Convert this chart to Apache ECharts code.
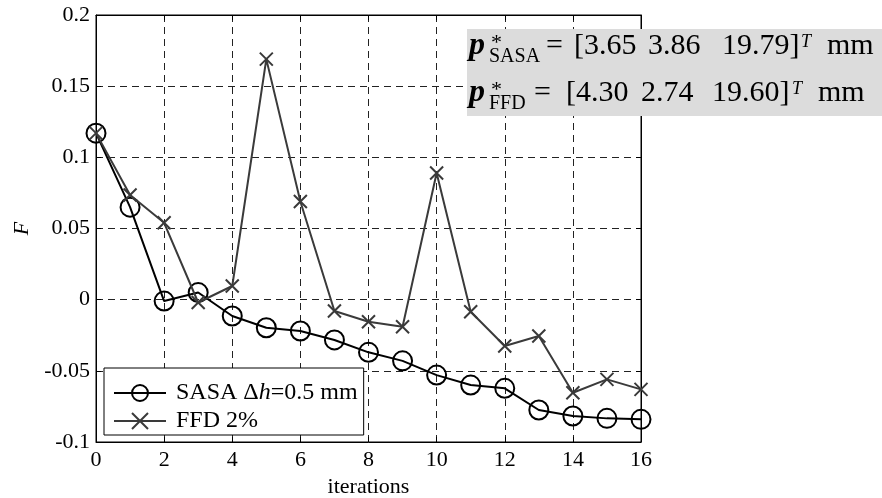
<!DOCTYPE html>
<html>
<head>
<meta charset="utf-8">
<script src="https://cdn.jsdelivr.net/npm/echarts@6/dist/echarts.min.js"></script>
<style>html,body{margin:0;padding:0;background:#fff}#c{width:882px;height:498px}</style>
</head>
<body>
<div id="c"></div>
<script>
const iterations = [0,1,2,3,4,5,6,7,8,9,10,11,12,13,14,15,16];
const sasaF = [0.117, 0.065, -0.001, 0.005, -0.0115, -0.0197, -0.022, -0.0283, -0.037, -0.043, -0.053, -0.060, -0.0623, -0.0775, -0.0817, -0.0834, -0.0841];
const ffdF = [0.117, 0.0735, 0.054, -0.002, 0.0096, 0.169, 0.069, -0.008, -0.0155, -0.019, 0.089, -0.0085, -0.0326, -0.0255, -0.0654, -0.056, -0.063];
const xTickLabels = ['0','2','4','6','8','10','12','14','16'];
const yTickLabels = ['-0.1','-0.05','0','0.05','0.1','0.15','0.2'];
const seriesNames = ['SASA \u0394h=0.5 mm', 'FFD 2%'];

const FONT = '"Liberation Serif", "Times New Roman", serif';
const chart = echarts.init(document.getElementById('c'));

function yLabel(v) {
  const idx = Math.round((v + 0.1) / 0.05);
  return yTickLabels[idx] !== undefined ? yTickLabels[idx] : '';
}
function xLabel(v) {
  const idx = Math.round(v / 2);
  return xTickLabels[idx] !== undefined ? xTickLabels[idx] : '';
}

const tx = (text, x, baseline, size, opts) => {
  opts = opts || {};
  return {
    type: 'text', z: 101,
    style: {
      text: text, x: x, y: baseline - 0.3375 * size,
      fontFamily: FONT, fontSize: size,
      fontStyle: opts.italic ? 'italic' : 'normal',
      fontWeight: opts.bold ? 'bold' : 'normal',
      fill: '#000', textAlign: 'left', verticalAlign: 'middle'
    }
  };
};

const b1 = 56, b2 = 103;
const annotation = [
  { type: 'rect', z: 100, shape: { x: 467, y: 29, width: 415, height: 87 }, style: { fill: '#dcdcdc' } },
  tx('p', 469, b1 + 1, 32, {bold: true, italic: true}),
  tx('*', 491, b1 - 5, 22),
  tx('SASA', 489, b1 + 7, 20),
  tx('=', 546, b1, 30),
  tx('[3.65', 574, b1, 30),
  tx('3.86', 648, b1, 30),
  tx('19.79]', 722, b1, 30),
  tx('T', 801, b1 - 8, 18, {italic: true}),
  tx('mm', 827, b1, 30),
  tx('p', 469, b2 + 1, 32, {bold: true, italic: true}),
  tx('*', 491, b2 - 5, 22),
  tx('FFD', 489, b2 + 7, 20),
  tx('=', 534, b2, 30),
  tx('[4.30', 566, b2, 30),
  tx('2.74', 641, b2, 30),
  tx('19.60]', 712, b2, 30),
  tx('T', 792, b2 - 8, 18, {italic: true}),
  tx('mm', 818, b2, 30)
];

const dashed = { show: true, lineStyle: { color: '#222', width: 1, type: [7, 5] } };

const option = {
  backgroundColor: '#fff',
  animation: false,
  textStyle: { fontFamily: FONT },
  grid: {
    left: 96, top: 15, right: 241, bottom: 56, containLabel: false, outerBoundsMode: 'none',
    show: true, borderColor: '#000', borderWidth: 1, backgroundColor: 'transparent'
  },
  xAxis: [
    {
      type: 'value', min: 0, max: 16, interval: 2, position: 'bottom',
      name: 'iterations', nameLocation: 'middle', nameGap: 29,
      nameTextStyle: { fontFamily: FONT, fontSize: 22, color: '#000' },
      axisLine: { show: true, onZero: false, lineStyle: { color: '#000', width: 1 } },
      axisTick: { show: true, inside: true, length: 5, lineStyle: { color: '#000' } },
      axisLabel: { formatter: xLabel, fontFamily: FONT, fontSize: 22, color: '#000', margin: 7 },
      splitLine: dashed
    },
    {
      type: 'value', min: 0, max: 16, interval: 2, position: 'top',
      axisLine: { show: true, onZero: false, lineStyle: { color: '#000', width: 1 } },
      axisTick: { show: true, inside: true, length: 5, lineStyle: { color: '#000' } },
      axisLabel: { show: false }, splitLine: { show: false }
    }
  ],
  yAxis: [
    {
      type: 'value', min: -0.1, max: 0.2, interval: 0.05, position: 'left',
      name: 'F', nameLocation: 'middle', nameGap: 62, nameRotate: 90,
      nameTextStyle: { fontFamily: FONT, fontSize: 22, fontStyle: 'italic', color: '#000' },
      axisLine: { show: true, onZero: false, lineStyle: { color: '#000', width: 1 } },
      axisTick: { show: true, inside: true, length: 5, lineStyle: { color: '#000' } },
      axisLabel: { formatter: yLabel, fontFamily: FONT, fontSize: 22, color: '#000', margin: 6, padding: [4, 0, 0, 0] },
      splitLine: dashed
    },
    {
      type: 'value', min: -0.1, max: 0.2, interval: 0.05, position: 'right',
      axisLine: { show: true, onZero: false, lineStyle: { color: '#000', width: 1 } },
      axisTick: { show: true, inside: true, length: 5, lineStyle: { color: '#000' } },
      axisLabel: { show: false }, splitLine: { show: false }
    }
  ],
  legend: {
    orient: 'vertical', left: 104, top: 368,
    padding: [13, 6, 2, 9],
    itemWidth: 52, itemHeight: 20, itemGap: 4,
    backgroundColor: '#fff', borderColor: '#000', borderWidth: 1, borderRadius: 0,
    data: seriesNames,
    formatter: name => name.replace('\u0394h', '\u0394{i|h}'),
    textStyle: {
      fontFamily: FONT, fontSize: 24, color: '#000', padding: [0, 0, 0, 5],
      rich: { i: { fontFamily: FONT, fontSize: 24, fontStyle: 'italic', color: '#000' } }
    }
  },
  series: [
    {
      name: seriesNames[0], type: 'line', xAxisIndex: 0, yAxisIndex: 0,
      data: iterations.map((x, i) => [x, sasaF[i]]),
      symbol: 'circle', symbolSize: 19,
      lineStyle: { color: '#000', width: 2 },
      itemStyle: { color: 'rgba(0,0,0,0)', borderColor: '#000', borderWidth: 2 },
      z: 3
    },
    {
      name: seriesNames[1], type: 'line', xAxisIndex: 0, yAxisIndex: 0,
      data: iterations.map((x, i) => [x, ffdF[i]]),
      symbol: 'path://M0,0L10,10M10,0L0,10', symbolSize: 13,
      lineStyle: { color: '#3a3a3a', width: 2 },
      itemStyle: { color: 'rgba(0,0,0,0)', borderColor: '#3a3a3a', borderWidth: 2 },
      z: 4
    }
  ],
  graphic: annotation
};
chart.setOption(option);
</script>
</body>
</html>
